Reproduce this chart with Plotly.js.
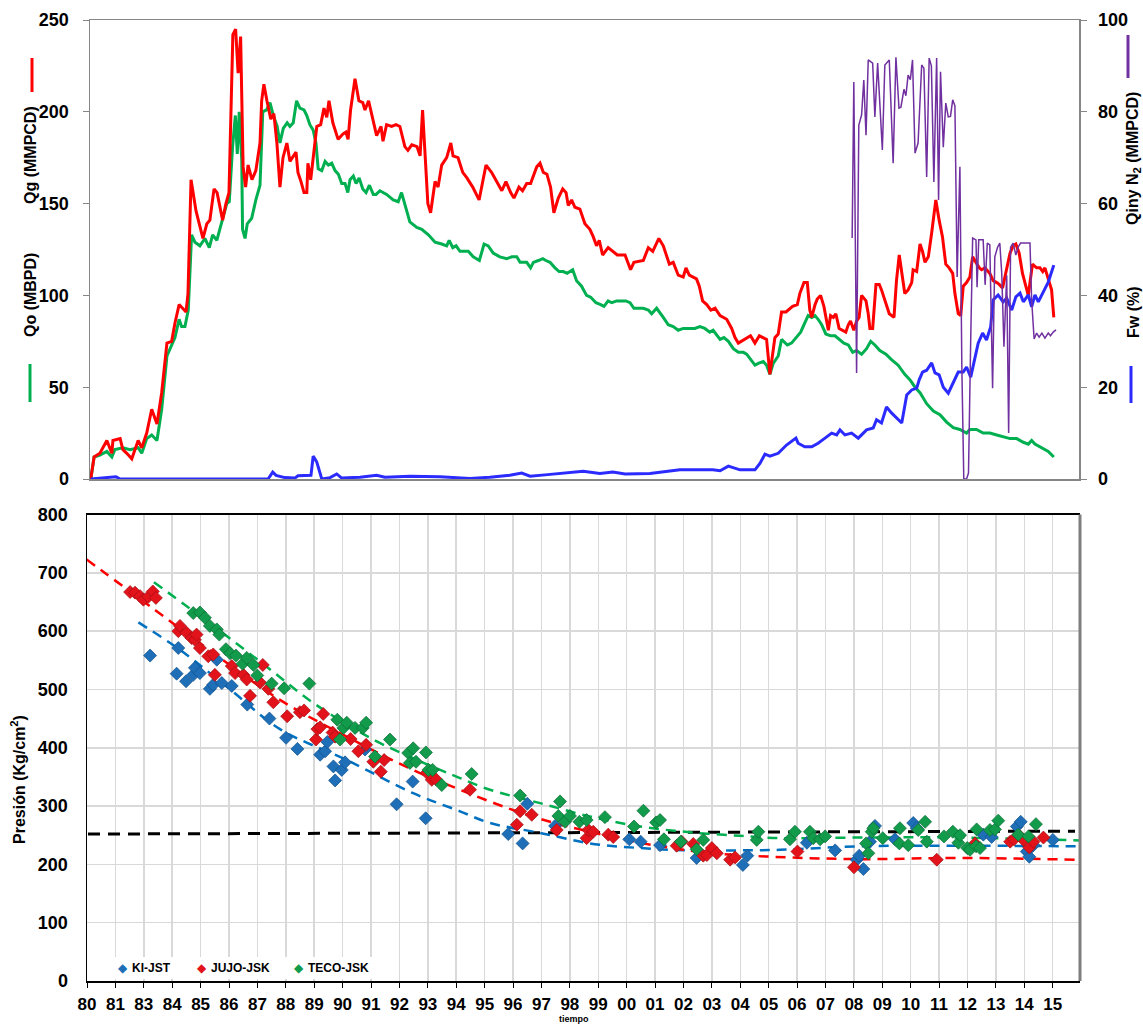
<!DOCTYPE html>
<html>
<head>
<meta charset="utf-8">
<script src="https://cdn.plot.ly/plotly-3.0.1.min.js"></script>
<style>html,body{margin:0;padding:0;background:#fff;}#chart{width:1143px;height:1024px;}</style>
</head>
<body>
<div id="chart"></div>
<script>
// ---------- TOP CHART DATA (x = decimal year) ----------
const qgYear = [1981.10,1981.22,1981.43,1981.68,1981.86,1981.90,1982.16,1982.26,1982.40,1982.58,1982.81,1982.94,1983.12,1983.30,1983.49,1983.66,1983.85,1984.02,1984.14,1984.29,1984.54,1984.61,1984.72,1984.79,1984.90,1985.15,1985.29,1985.40,1985.55,1985.66,1985.86,1985.98,1986.09,1986.23,1986.33,1986.42,1986.51,1986.60,1986.69,1986.78,1986.92,1987.06,1987.21,1987.27,1987.35,1987.46,1987.60,1987.71,1987.82,1987.93,1988.04,1988.18,1988.29,1988.51,1988.58,1988.69,1988.80,1988.90,1988.94,1989.04,1989.12,1989.26,1989.40,1989.52,1989.62,1989.70,1989.84,1990.03,1990.21,1990.31,1990.39,1990.48,1990.64,1990.78,1990.92,1991.00,1991.13,1991.28,1991.42,1991.58,1991.65,1991.78,1991.96,1992.12,1992.26,1992.44,1992.55,1992.69,1992.88,1992.99,1993.08,1993.27,1993.37,1993.53,1993.64,1993.77,1993.95,1994.10,1994.18,1994.36,1994.53,1994.68,1994.89,1995.12,1995.37,1995.57,1995.75,1995.94,1996.09,1996.26,1996.38,1996.56,1996.69,1996.84,1996.98,1997.06,1997.20,1997.32,1997.44,1997.57,1997.70,1997.82,1997.98,1998.14,1998.26,1998.34,1998.46,1998.58,1998.76,1998.94,1999.12,1999.24,1999.36,1999.46,1999.58,1999.78,1999.96,2000.11,2000.39,2000.59,2000.71,2001.05,2001.23,2001.39,2001.61,2001.77,2001.99,2002.13,2002.31,2002.49,2002.59,2002.71,2002.97,2003.07,2003.19,2003.34,2003.49,2003.64,2003.82,2004.06,2004.24,2004.36,2004.48,2004.78,2004.92,2005.08,2005.24,2005.37,2005.50,2005.62,2005.80,2005.92,2006.04,2006.20,2006.34,2006.44,2006.61,2006.70,2006.85,2006.97,2007.06,2007.13,2007.25,2007.33,2007.45,2007.57,2007.73,2007.81,2007.91,2008.00,2008.12,2008.27,2008.36,2008.45,2008.53,2008.65,2008.75,2008.84,2008.93,2009.09,2009.17,2009.23,2009.33,2009.45,2009.57,2009.65,2009.81,2009.93,2010.10,2010.19,2010.29,2010.38,2010.49,2010.61,2010.74,2010.79,2010.92,2011.04,2011.13,2011.22,2011.34,2011.46,2011.61,2011.73,2011.85,2011.97,2012.09,2012.22,2012.30,2012.42,2012.51,2012.60,2012.72,2012.84,2012.94,2013.06,2013.18,2013.26,2013.38,2013.56,2013.68,2013.81,2013.90,2014.02,2014.29,2014.40,2014.50,2014.62,2014.74,2014.86,2014.95,2015.01,2015.10,2015.25,2015.37,2015.47,2015.55,2015.61,2015.70,2015.79,2015.87];
const qgMMPCD = [0,12,14,21,14,21,22,16,14,11,21,17,25,38,30,47,74,75,85,95,91,101,163,157,146,131,139,141,158,156,141,150,156,242,245,221,241,170,159,171,163,168,183,206,215,206,196,199,183,159,175,183,173,178,167,162,156,156,172,163,175,192,193,202,197,206,194,185,188,189,185,201,218,206,205,201,206,197,187,192,184,193,192,193,192,181,179,182,181,176,201,150,145,162,159,171,175,183,176,175,167,164,159,152,171,167,162,157,162,156,153,159,157,161,161,164,170,172,167,166,159,145,153,158,156,149,152,148,147,139,136,132,127,130,122,126,124,122,122,114,118,119,126,124,131,127,117,118,111,110,115,111,109,105,97,95,92,93,89,87,82,77,74,77,78,74,78,77,76,57,77,79,91,91,93,94,95,101,107,107,92,88,95,98,100,94,81,89,88,90,82,81,80,84,86,81,86,88,100,97,90,82,82,106,106,103,96,90,88,108,122,112,101,103,107,114,113,128,124,118,121,134,152,141,132,117,115,112,101,90,89,105,107,110,121,118,115,114,115,112,108,107,106,104,123,127,128,123,112,105,100,107,117,115,115,113,115,112,107,103,88];

const qoYear = [1981.10,1981.22,1981.43,1981.68,1981.86,1981.97,1982.26,1982.52,1982.81,1982.94,1983.12,1983.30,1983.49,1983.66,1983.85,1984.02,1984.14,1984.29,1984.38,1984.50,1984.62,1984.74,1984.86,1985.04,1985.22,1985.38,1985.50,1985.65,1985.83,1986.01,1986.10,1986.22,1986.32,1986.39,1986.46,1986.55,1986.58,1986.67,1986.75,1986.91,1987.06,1987.21,1987.31,1987.45,1987.57,1987.69,1987.83,1987.93,1988.05,1988.19,1988.29,1988.41,1988.53,1988.65,1988.80,1988.90,1989.01,1989.13,1989.23,1989.31,1989.44,1989.56,1989.68,1989.80,1989.92,1990.04,1990.16,1990.28,1990.38,1990.46,1990.58,1990.68,1990.79,1990.92,1991.04,1991.16,1991.30,1991.40,1991.54,1991.78,1992.02,1992.20,1992.32,1992.44,1992.62,1992.87,1993.05,1993.29,1993.53,1993.77,1993.95,1994.04,1994.17,1994.29,1994.43,1994.73,1994.91,1995.13,1995.30,1995.45,1995.63,1995.87,1996.12,1996.30,1996.48,1996.60,1996.84,1996.98,1997.08,1997.26,1997.42,1997.53,1997.68,1997.86,1998.01,1998.16,1998.30,1998.50,1998.64,1998.82,1999.00,1999.15,1999.34,1999.51,1999.63,1999.78,1999.91,2000.09,2000.42,2000.57,2000.71,2001.05,2001.23,2001.35,2001.53,2001.77,2001.95,2002.13,2002.31,2002.49,2002.73,2002.91,2003.09,2003.27,2003.45,2003.57,2003.82,2003.96,2004.12,2004.30,2004.48,2004.66,2004.78,2004.92,2005.08,2005.20,2005.38,2005.50,2005.62,2005.74,2005.92,2006.04,2006.25,2006.40,2006.58,2006.73,2006.88,2007.00,2007.13,2007.25,2007.36,2007.49,2007.64,2007.81,2007.97,2008.12,2008.29,2008.45,2008.61,2008.75,2008.93,2009.11,2009.26,2009.41,2009.59,2009.81,2010.01,2010.25,2010.49,2010.68,2010.86,2011.04,2011.28,2011.52,2011.76,2012.00,2012.24,2012.48,2012.72,2012.84,2013.08,2013.32,2013.56,2013.81,2014.04,2014.29,2014.53,2014.77,2014.95,2015.07,2015.19,2015.43,2015.67,2015.87];
const qoMBPD = [0,12,13,15,12,16,17,16,17,14,22,24,21,38,67,73,77,87,83,83,92,133,129,127,131,126,133,130,140,150,151,181,198,177,200,174,136,131,139,142,152,160,200,201,205,198,192,183,191,194,192,194,206,202,201,198,193,190,183,169,168,173,171,172,168,166,161,161,156,163,165,161,164,158,156,160,155,155,157,155,152,151,156,150,140,137,136,133,129,128,127,130,126,127,124,124,121,119,128,127,123,121,120,121,121,118,118,115,118,119,120,119,118,115,113,113,112,114,108,105,100,99,96,95,94,97,96,97,97,96,93,93,92,90,93,88,84,83,81,82,82,82,83,82,80,81,76,77,75,71,69,69,68,65,62,63,64,62,57,63,67,76,73,74,77,80,85,89,88,89,87,84,79,78,78,76,74,73,69,70,68,71,75,73,70,68,65,62,57,54,50,47,41,37,35,31,28,27,25,27,27,25,25,24,23,22,22,20,19,21,19,17,15,12];

const fwYear = [1981.10,1982.01,1982.16,1985.04,1987.50,1987.67,1987.79,1988.11,1988.47,1988.58,1988.83,1989.05,1989.13,1989.26,1989.44,1989.74,1989.98,1990.16,1990.82,1991.42,1991.72,1992.62,1993.71,1994.43,1994.79,1995.51,1996.23,1996.66,1996.96,1997.50,1998.28,1998.88,1999.48,1999.95,2000.39,2001.29,2002.37,2003.09,2003.56,2003.82,2004.12,2004.54,2005.08,2005.26,2005.44,2005.62,2005.92,2006.22,2006.40,2006.56,2006.64,2006.88,2007.13,2007.36,2007.61,2007.85,2008.03,2008.15,2008.33,2008.57,2008.81,2008.99,2009.11,2009.35,2009.47,2009.65,2009.83,2010.01,2010.19,2010.38,2010.56,2010.74,2010.92,2011.01,2011.13,2011.28,2011.46,2011.58,2011.73,2011.88,2012.06,2012.24,2012.42,2012.60,2012.72,2012.87,2012.99,2013.14,2013.30,2013.44,2013.59,2013.68,2013.86,2014.04,2014.17,2014.35,2014.50,2014.65,2014.77,2014.95,2015.07,2015.19,2015.31,2015.49,2015.67,2015.87];
const fwPct = [0,0.5,0,0,0,1.5,0.8,0.3,0.2,0.7,0.8,0.8,5.0,3.7,0,0.3,1.1,0.2,0.4,0.8,0.4,0.6,0.5,0.3,0.1,0.4,0.8,1.3,0.6,0.9,1.4,1.7,1.2,1.5,1.1,1.2,2.0,2.0,2.0,1.8,2.8,2.0,2.0,3.4,5.4,5.0,5.6,7.4,8.1,8.9,7.8,7.0,7.0,7.8,8.9,10.0,9.6,10.7,9.6,10.0,8.9,10.0,10.7,11.1,12.9,12.2,15.7,14.4,13.3,12.2,18.3,19.4,19.8,21.6,23.3,23.7,25.3,23.1,22.7,20.0,18.7,20.9,23.3,23.3,24.4,22.2,25.5,29.6,31.8,30.3,33.1,39.0,40.1,38.6,39.4,36.8,39.7,40.5,38.6,40.1,37.5,40.1,38.6,40.7,42.9,46.6];

const n2Year = [2008.59,2008.65,2008.75,2008.83,2008.93,2009.01,2009.09,2009.17,2009.33,2009.41,2009.51,2009.68,2009.77,2009.93,2010.07,2010.17,2010.28,2010.35,2010.46,2010.53,2010.61,2010.69,2010.77,2010.86,2010.97,2011.10,2011.18,2011.28,2011.37,2011.45,2011.54,2011.64,2011.71,2011.78,2011.88,2011.97,2012.06,2012.14,2012.22,2012.30,2012.38,2012.48,2012.55,2012.62,2012.72,2012.79,2012.87,2012.94,2013.06,2013.10,2013.16,2013.32,2013.39,2013.47,2013.56,2013.66,2013.74,2013.84,2013.92,2013.99,2014.07,2014.17,2014.24,2014.31,2014.40,2014.50,2014.58,2014.67,2015.01,2015.07,2015.16,2015.25,2015.34,2015.44,2015.55,2015.67,2015.75,2015.85,2015.95];
const n2MMPCD = [52.5,86.5,23.1,77.1,79.3,86.9,74.9,91.3,90.6,78.9,90.6,71.7,90.2,91.3,68.8,91.9,80.8,81.0,84.9,83.5,88.0,87.0,91.3,71.0,73.2,90.2,89.5,65.8,91.7,90.0,64.7,91.7,60.8,88.7,72.3,81.9,78.9,79.0,82.6,81.3,44.0,68.0,24.4,0,0,1.3,30.3,52.5,52.1,41.8,52.1,52.1,42.3,51.4,51.0,19.8,48.4,50.5,51.4,44.9,28.8,44.4,10.0,50.5,51.4,48.8,50.5,51.4,51.4,39.0,30.5,31.8,30.9,31.8,30.7,31.8,31.2,32.0,32.5];

// ---------- BOTTOM CHART DATA (pressure, Kg/cm2) ----------
const kiYear = [1983.24,1984.20,1984.26,1984.54,1984.80,1984.86,1985.04,1985.40,1985.52,1985.65,1985.83,1986.19,1986.75,1987.55,1988.15,1988.56,1989.38,1989.56,1989.64,1989.86,1989.92,1990.16,1990.28,1991.00,1992.14,1992.72,1993.19,1996.17,1996.69,1996.86,1997.86,2000.54,2000.95,2001.65,2002.97,2004.64,2004.80,2006.95,2007.97,2008.75,2008.84,2008.99,2009.23,2009.41,2010.13,2010.79,2010.92,2013.32,2013.62,2014.53,2014.67,2014.89,2014.98,2015.13,2015.83];
const kiP = [558,527,571,514,525,537,528,501,508,551,511,506,474,450,417,398,388,394,410,368,344,362,375,397,303,342,279,252,236,304,266,243,239,233,211,199,215,237,224,208,215,192,239,266,243,271,262,251,247,265,273,222,213,233,242];

const jujoYear = [1982.52,1982.70,1982.88,1983.00,1983.18,1983.34,1983.45,1984.26,1984.32,1984.56,1984.74,1984.86,1984.92,1985.04,1985.34,1985.52,1985.58,1986.19,1986.31,1986.61,1986.73,1986.85,1987.21,1987.31,1987.51,1987.69,1988.19,1988.65,1988.80,1989.23,1989.28,1989.38,1989.49,1989.83,1989.92,1990.48,1990.76,1991.04,1991.30,1991.57,1991.69,1993.23,1993.41,1993.56,1994.79,1996.48,1996.60,1997.02,1997.92,1999.00,1999.06,1999.24,1999.78,1999.96,2002.25,2002.43,2002.85,2003.21,2003.34,2003.52,2003.70,2004.18,2004.36,2006.61,2008.65,2011.64,2013.02,2014.29,2014.43,2014.65,2014.77,2014.98,2015.13,2015.49];
const jujoP = [667,666,660,654,659,668,657,600,609,597,588,585,594,571,557,560,525,540,528,525,517,489,512,542,501,478,454,461,464,414,432,435,458,426,419,415,394,405,376,359,379,357,345,346,328,268,291,285,259,245,259,256,251,247,232,239,235,215,216,228,219,208,212,222,195,208,236,239,243,248,242,229,239,246];

const tecoYear = [1984.80,1985.04,1985.22,1985.40,1985.65,1985.74,1985.98,1986.13,1986.34,1986.58,1986.73,1986.97,1987.11,1987.63,1988.08,1988.99,1990.00,1990.10,1990.22,1990.34,1990.64,1990.92,1991.04,1991.36,1991.90,1992.56,1992.62,1992.74,1992.84,1993.20,1993.29,1993.44,1993.77,1994.85,1996.60,1997.98,1998.04,1998.22,1998.40,1998.74,1999.00,1999.66,2000.71,2001.05,2001.51,2001.65,2001.79,2002.40,2002.97,2003.21,2005.14,2005.20,2006.34,2006.52,2007.06,2007.18,2007.43,2007.61,2009.09,2009.17,2009.29,2009.35,2009.69,2010.29,2010.31,2010.61,2010.97,2011.22,2011.28,2011.90,2012.22,2012.42,2012.48,2012.74,2012.84,2013.06,2013.08,2013.20,2013.56,2013.74,2013.86,2014.58,2014.95,2015.22];
const tecoP = [631,632,623,609,603,594,569,562,558,544,554,542,524,510,502,510,448,414,434,443,434,434,443,385,414,391,374,399,376,392,362,362,336,355,318,283,308,273,283,273,276,281,265,292,272,276,243,239,226,242,242,256,243,256,256,245,243,248,236,219,256,262,245,236,262,233,259,273,239,248,256,237,250,228,225,231,260,228,259,260,275,251,248,269];

// trend curves
const kiTrendYear = [1982.82,1984.32,1986.13,1987.93,1990.34,1992.74,1994.43,1995.51,1997.32,1999.12,2000.93,2002.73,2004.54,2005.98,2008.87,2012.48,2016.81];
const kiTrendP = [615,568,500,432,379,322,291,271,254,236,228,224,224,225,231,232,231];
const jujoTrendYear = [1980.95,1983.48,1985.51,1987.93,1990.34,1992.73,1994.43,1996.12,1997.68,1999.12,2000.93,2002.12,2003.34,2005.73,2008.87,2012.48,2016.63];
const jujoTrendP = [723,634,563,482,419,362,328,297,273,256,237,228,220,213,209,211,208];
const tecoTrendYear = [1983.38,1985.52,1987.45,1989.13,1991.30,1992.74,1993.71,1994.43,1995.51,1997.32,1999.12,2000.93,2002.73,2004.54,2005.98,2008.87,2012.48,2016.81];
const tecoTrendP = [684,609,539,477,414,382,362,348,328,305,282,265,255,249,245,246,246,241];
const refYear = [1981.00,2016.63];
const refP = [252,257];

const xTickLabels = ['80','81','83','84','85','86','87','88','89','90','91','92','93','94','95','96','97','98','99','00','01','02','03','04','05','06','07','08','09','10','11','12','13','14','15'];
const seriesNames = ['KI-JST', 'JUJO-JSK', 'TECO-JSK'];
const seriesColors = ['#1f6fb8', '#e3131b', '#119b4b'];

// ---------- LAYOUT HELPERS ----------
const W = 1143, H = 1024;
const px = v => v / W;
const py = v => 1 - v / H;
const FONT = 'Liberation Sans, Arial, sans-serif';
const tickStart = 1980.964, tickStep = 1.0253;
const xTickVals = xTickLabels.map((_, i) => tickStart + i * tickStep);

const markerLine = ['#0f4f8a', '#a00d12', '#0a6c33'];
const ptsX = [kiYear, jujoYear, tecoYear];
const ptsY = [kiP, jujoP, tecoP];

const traces = [
  // top chart
  {x: qoYear, y: qoMBPD, xaxis: 'x2', yaxis: 'y2', mode: 'lines', line: {color: '#00b050', width: 3}, name: 'Qo'},
  {x: qgYear, y: qgMMPCD, xaxis: 'x2', yaxis: 'y2', mode: 'lines', line: {color: '#ff0000', width: 3}, name: 'Qg'},
  {x: fwYear, y: fwPct, xaxis: 'x2', yaxis: 'y3', mode: 'lines', line: {color: '#2b2bff', width: 3}, name: 'Fw'},
  {x: n2Year, y: n2MMPCD, xaxis: 'x2', yaxis: 'y3', mode: 'lines', line: {color: '#7030a0', width: 1.5}, name: 'Qiny N2'},
  // bottom chart trends
  {x: refYear, y: refP, xaxis: 'x', yaxis: 'y', mode: 'lines', line: {color: '#000000', width: 3, dash: '12px,8px'}},
  {x: kiTrendYear, y: kiTrendP, xaxis: 'x', yaxis: 'y', mode: 'lines', line: {color: '#0070c0', width: 2.5, dash: '10px,7px', shape: 'spline'}},
  {x: jujoTrendYear, y: jujoTrendP, xaxis: 'x', yaxis: 'y', mode: 'lines', line: {color: '#ff0000', width: 2.5, dash: '10px,7px', shape: 'spline'}},
  {x: tecoTrendYear, y: tecoTrendP, xaxis: 'x', yaxis: 'y', mode: 'lines', line: {color: '#00b050', width: 2.5, dash: '10px,7px', shape: 'spline'}}
];
seriesNames.forEach((n, i) => traces.push({
  x: ptsX[i], y: ptsY[i], xaxis: 'x', yaxis: 'y', mode: 'markers', name: n,
  marker: {symbol: 'diamond', size: 10, color: seriesColors[i], line: {color: markerLine[i], width: 0.7}}
}));

const tickFont = {family: FONT, size: 18, color: '#000', weight: 700};
const GRAY = '#868686';

// legend drawn as text (diamond glyph + label) at the reference's spot
const legendDiamondX = [123, 202, 299];
const legendAnn = [];
seriesNames.forEach((n, i) => {
  legendAnn.push({text: '◆', xref: 'paper', yref: 'paper', x: px(legendDiamondX[i]), y: py(968), showarrow: false,
                  xanchor: 'center', yanchor: 'middle', font: {family: 'DejaVu Sans, sans-serif', size: 12, color: seriesColors[i]}});
  legendAnn.push({text: n, xref: 'paper', yref: 'paper', x: px(legendDiamondX[i] + 7), y: py(968), showarrow: false,
                  xanchor: 'left', yanchor: 'middle', font: {family: FONT, size: 12, weight: 700, color: '#000'}});
});

const layout = {
  width: W, height: H,
  margin: {l: 0, r: 0, t: 0, b: 0},
  paper_bgcolor: '#fff', plot_bgcolor: '#fff',
  font: {family: FONT, color: '#000'},
  showlegend: false,
  // bottom chart axes
  xaxis: {domain: [px(87), px(1080)], anchor: 'y', range: [1980.964, 2016.81],
          tickmode: 'array', tickvals: xTickVals, ticktext: xTickLabels,
          tickfont: {family: FONT, size: 17, color: '#000', weight: 700},
          showgrid: true, gridcolor: '#d9d9d9', gridwidth: 1.5,
          showline: true, linecolor: '#000', linewidth: 1.5, mirror: true,
          ticks: 'outside', ticklen: 5, tickcolor: '#000', ticklabelstandoff: 2, zeroline: false},
  yaxis: {domain: [py(981), py(514.5)], anchor: 'x', range: [0, 800], dtick: 100,
          tickfont: tickFont, showgrid: true, gridcolor: '#d9d9d9', gridwidth: 1.5,
          showline: true, linecolor: '#000', linewidth: 1.5, ticks: '', ticklabelstandoff: 14, zeroline: false},
  // top chart axes
  xaxis2: {domain: [px(90), px(1079)], anchor: 'y2', range: [1981.072, 2016.78],
           showticklabels: false, ticks: '', showgrid: false, zeroline: false,
           showline: true, linecolor: GRAY, linewidth: 1.5, mirror: true},
  yaxis2: {domain: [py(479), py(20)], anchor: 'x2', range: [0, 250], dtick: 50,
           tickfont: tickFont, showgrid: false, zeroline: false,
           showline: true, linecolor: GRAY, linewidth: 1.5,
           ticks: 'outside', ticklen: 6, tickcolor: GRAY, ticklabelstandoff: 10},
  yaxis3: {overlaying: 'y2', side: 'right', anchor: 'x2', range: [0, 100], dtick: 20,
           tickfont: tickFont, showgrid: false, zeroline: false,
           showline: true, linecolor: GRAY, linewidth: 1.5,
           ticks: 'outside', ticklen: 6, tickcolor: GRAY, ticklabelstandoff: 8},
  shapes: [
    // white legend box over the gridlines (no data lies there)
    {type: 'rect', xref: 'paper', yref: 'paper', layer: 'above',
     x0: px(113), x1: px(392), y0: py(979), y1: py(957), fillcolor: '#ffffff', line: {width: 0}},
    {type: 'line', xref: 'x domain', yref: 'y domain', x0: 1, x1: 1, y0: 0, y1: 1, line: {color: '#7f7f7f', width: 3}},
    {type: 'line', xref: 'paper', yref: 'paper', x0: px(32), x1: px(32), y0: py(58), y1: py(92), line: {color: '#ff0000', width: 3}},
    {type: 'line', xref: 'paper', yref: 'paper', x0: px(30), x1: px(30), y0: py(364), y1: py(402), line: {color: '#00b050', width: 3}},
    {type: 'line', xref: 'paper', yref: 'paper', x0: px(1128), x1: px(1128), y0: py(35), y1: py(78), line: {color: '#7030a0', width: 3}},
    {type: 'line', xref: 'paper', yref: 'paper', x0: px(1131), x1: px(1131), y0: py(366), y1: py(403), line: {color: '#2b2bff', width: 3}}
  ],
  annotations: [
    {text: 'Qg (MMPCD)', xref: 'paper', yref: 'paper', x: px(30), y: py(155), textangle: -90, showarrow: false, xanchor: 'center', yanchor: 'middle', font: {family: FONT, size: 16, weight: 700}},
    {text: 'Qo (MBPD)', xref: 'paper', yref: 'paper', x: px(30), y: py(295), textangle: -90, showarrow: false, xanchor: 'center', yanchor: 'middle', font: {family: FONT, size: 16, weight: 700}},
    {text: 'Qiny N<sub>2</sub> (MMPCD)', xref: 'paper', yref: 'paper', x: px(1133), y: py(159), textangle: -90, showarrow: false, xanchor: 'center', yanchor: 'middle', font: {family: FONT, size: 16, weight: 700}},
    {text: 'Fw (%)', xref: 'paper', yref: 'paper', x: px(1133), y: py(312), textangle: -90, showarrow: false, xanchor: 'center', yanchor: 'middle', font: {family: FONT, size: 16, weight: 700}},
    {text: 'Presión (Kg/cm<sup>2</sup>)', xref: 'paper', yref: 'paper', x: px(18), y: py(780), textangle: -90, showarrow: false, xanchor: 'center', yanchor: 'middle', font: {family: FONT, size: 16, weight: 700}},
    {text: 'tiempo', xref: 'paper', yref: 'paper', x: px(574), y: py(1019), showarrow: false, xanchor: 'center', yanchor: 'middle', font: {family: FONT, size: 9, weight: 700}}
  ].concat(legendAnn)
};

Plotly.newPlot('chart', traces, layout, {displayModeBar: false, staticPlot: true});
</script>
</body>
</html>
